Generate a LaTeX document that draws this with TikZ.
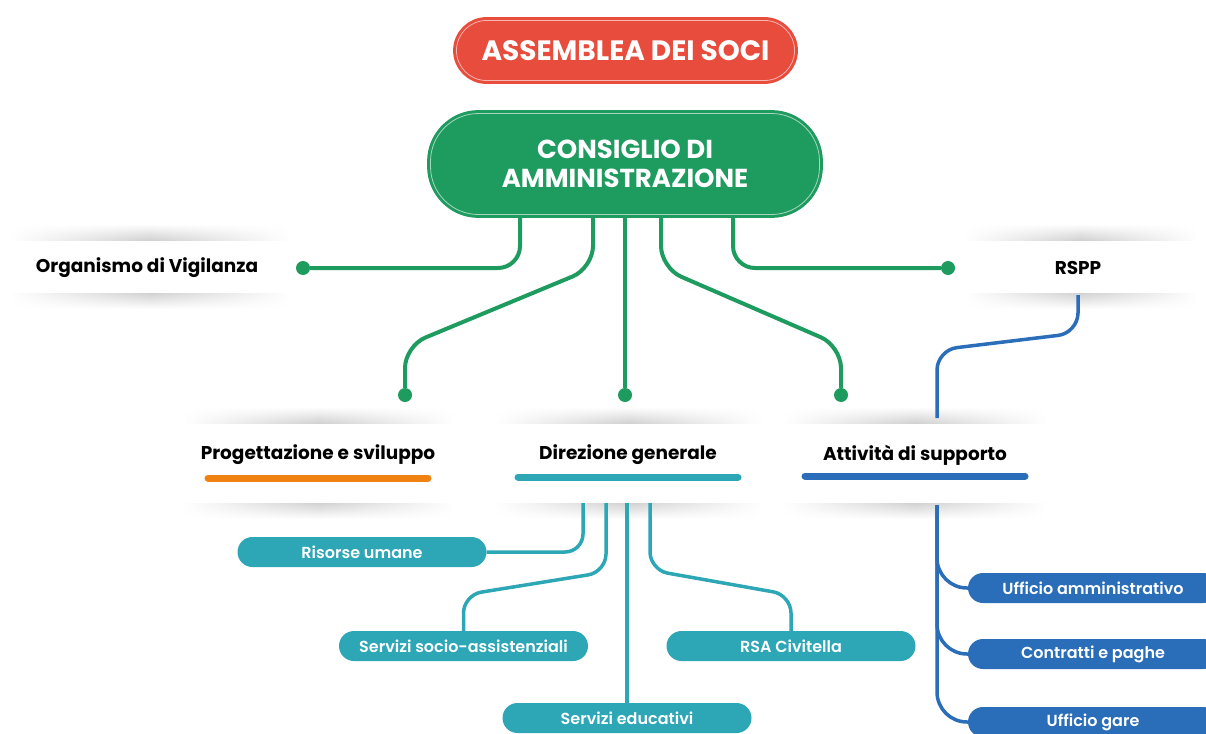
\documentclass[tikz,border=0pt]{standalone}
\usepackage{fontspec}
\setmainfont{Poppins}
\newfontfamily\pillfont{Poppins}[UprightFont=* SemiBold]
\usetikzlibrary{shapes,arrows,fadings}
\definecolor{asmred}{HTML}{E84C3D}
\definecolor{cdagreen}{HTML}{1E9B5E}
\definecolor{dirteal}{HTML}{2DA6B6}
\definecolor{attblue}{HTML}{2A6DB8}
\definecolor{proorange}{HTML}{F08213}
\tikzfading[name=fade sides, left color=transparent!100, right color=transparent!100, middle color=transparent!0]
\tikzstyle{assembly} = [rectangle, rounded corners=30pt, fill=asmred, draw=asmred, double=asmred!40!white, double distance=0.8pt, line width=3pt, minimum width=338pt, minimum height=60pt, text=white, font=\bfseries\fontsize{28}{30}\selectfont]
\tikzstyle{board} = [assembly, rounded corners=48pt, fill=cdagreen, draw=cdagreen, double=cdagreen!40!white, minimum width=389pt, minimum height=101pt, align=center, font=\bfseries\fontsize{26}{29}\selectfont]
\tikzstyle{head} = [text=black, font=\bfseries\fontsize{18.5}{21}\selectfont]
\tikzstyle{sub} = [rectangle, rounded corners=15pt, fill=dirteal, text=white, minimum width=249pt, minimum height=30pt, font=\pillfont\fontsize{16}{18}\selectfont]
\tikzstyle{office} = [sub, fill=attblue, minimum width=250pt]
\tikzstyle{gdot} = [circle, fill=cdagreen, minimum size=14pt, inner sep=0pt]
\tikzstyle{gline} = [draw=cdagreen, line width=4pt, rounded corners=22pt]
\tikzstyle{tline} = [draw=dirteal, line width=3.5pt, rounded corners=18pt]
\tikzstyle{bline} = [draw=attblue, line width=3.5pt, rounded corners=30pt]
\tikzstyle{bar} = [line width=7pt, line cap=round]
\tikzstyle{shadow up} = [top color=white, bottom color=black!18, path fading=fade sides]
\tikzstyle{shadow down} = [top color=black!18, bottom color=white, path fading=fade sides]
\pgfdeclarelayer{background}
\pgfsetlayers{background,main}

\begin{document}
\begin{tikzpicture}[x=1pt, y=-1pt]
    \useasboundingbox (0,0) rectangle (1206,733);
    \node [assembly] (assembly) at (625.5,50.5) {ASSEMBLEA DEI SOCI};
    \node [board] (board) at (625,164) {CONSIGLIO DI\\AMMINISTRAZIONE};

    \node [head] (odv) at (147,268) {Organismo di Vigilanza};
    \node [head] (rspp) at (1078,268) {RSPP};
    \node [head] (prog) at (318,455) {Progettazione e sviluppo};
    \node [head] (dir) at (628,455) {Direzione generale};
    \node [head] (att) at (915,455) {Attività di supporto};

    \node [gdot] (odv-dot) at (303,268) {};
    \node [gdot] (rspp-dot) at (948,268) {};
    \node [gdot] (prog-dot) at (405,395) {};
    \node [gdot] (dir-dot) at (625,395) {};
    \node [gdot] (att-dot) at (841,395) {};

    \coordinate (rspp-foot) at (1078,295);
    \coordinate (att-top) at (937,418);
    \coordinate (dir-foot) at (627,503);
    \coordinate (att-foot) at (937,505);

    \node [sub] (hr) at (362,552) {Risorse umane};
    \node [sub] (social) at (463.5,646) {Servizi socio-assistenziali};
    \node [sub] (edu) at (627,718) {Servizi educativi};
    \node [sub] (rsa) at (791,646) {RSA Civitella};
    \node [office] (amm) at (1093,588) {Ufficio amministrativo};
    \node [office] (pay) at (1093,654) {Contratti e paghe};
    \node [office] (bids) at (1093,722) {Ufficio gare};

    \path [bar, draw=proorange] (prog.center) +(-110,23) -- +(110,23);
    \path [bar, draw=dirteal] (dir.center) +(-110,22) -- +(110,22);
    \path [bar, draw=attblue] (att.center) +(-110,21) -- +(110,21);

    \path [gline] ([xshift=-105pt]board.south) |- (odv-dot);
    \path [gline] ([xshift=108pt]board.south) |- (rspp-dot);
    \path [gline] ([xshift=-32pt]board.south) -- (593,268) -- (405,346) -- (prog-dot);
    \path [gline] (board.south) -- (dir-dot);
    \path [gline] ([xshift=36pt]board.south) -- (661,268) -- (841,346) -- (att-dot);

    \path [bline, rounded corners=20pt] (rspp-foot) -- (1078,333) -- (937,350) -- (att-top);
    \foreach \office in {amm,pay,bids}
        \path [bline] (att-foot) |- (\office.west);

    \path [tline] ([xshift=-44pt]dir-foot) |- (hr.east);
    \path [tline] ([xshift=-21pt]dir-foot) -- (606,572) -- (463.5,595) -- (social.north);
    \path [tline] (dir-foot) -- (edu.north);
    \path [tline] ([xshift=23pt]dir-foot) -- (650,570) -- (791,595) -- (rsa.north);

    \begin{pgfonlayer}{background}
       \foreach \xa/\xb/\ya/\yb in {10/290/240/293, 965/1198/240/293, 183/455/423/503, 495/762/423/503, 783/1047/423/503} {
           \path [shadow up] (\xa,\ya-16) rectangle (\xb,\ya);
           \path [shadow down] (\xa,\yb) rectangle (\xb,\yb+16);
       }
    \end{pgfonlayer}
\end{tikzpicture}
\end{document}
